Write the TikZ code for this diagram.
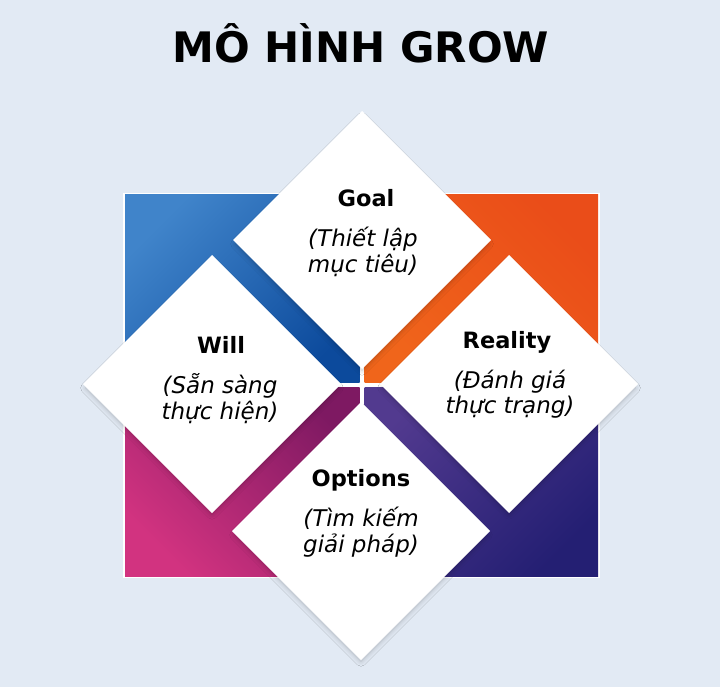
\documentclass[tikz,border=0pt]{standalone}
\usepackage{fontspec}
\setmainfont{DejaVu Sans}
\usetikzlibrary{shapes.geometric,shadows.blur}
\definecolor{bg}{HTML}{E2EAF4}
\definecolor{tlA}{HTML}{4084CA}
\definecolor{tlB}{HTML}{0C4A9C}
\definecolor{trA}{HTML}{F0651B}
\definecolor{trB}{HTML}{EA4D19}
\definecolor{blA}{HTML}{7E1962}
\definecolor{blB}{HTML}{D23380}
\definecolor{brA}{HTML}{523A8F}
\definecolor{brB}{HTML}{241F73}
\begin{document}
\begin{tikzpicture}[x=1pt,y=-1pt,
  dia/.style={diamond, aspect=1, minimum width=258pt, minimum height=258pt,
    inner sep=0pt, outer sep=0pt, fill=white,
    blur shadow={shadow blur radius=5pt, shadow xshift=0pt, shadow yshift=-4pt,
      shadow scale=0.98, shadow opacity=22, shadow blur steps=10}},
  ttl/.style={font=\fontsize{22.5}{26}\selectfont\bfseries, anchor=base, inner sep=0pt},
  sub/.style={font=\fontsize{23}{26}\selectfont\itshape, anchor=base, inner sep=0pt}]
\useasboundingbox[fill=bg] (0,0) rectangle (720,687);
\node[font=\fontsize{42}{44}\selectfont\bfseries, anchor=base, inner sep=0pt] (title) at (361,63) {MÔ HÌNH GROW};
% square
\fill[white] (123,193) rectangle (600,578);
\shade[top color=tlA, bottom color=tlB, shading angle=45] (125,195) rectangle (359.5,382.5);
\shade[top color=trB, bottom color=trA, shading angle=-45] (364.5,195) rectangle (598,382.5);
\shade[top color=blA, bottom color=blB, shading angle=-45] (125,387.5) rectangle (359.5,576);
\shade[top color=brA, bottom color=brB, shading angle=45] (364.5,387.5) rectangle (598,576);
% diamonds
\node[dia] (goal) at (362,240) {};
\node[dia] (will) at (212,384) {};
\node[dia] (reality) at (509,384) {};
\node[dia] (options) at (361,531) {};
% texts
\node[ttl] (goalT) at (366,207) {Goal};
\node[sub] (goalA) at (363,247) {(Thiết lập};
\node[sub] (goalB) at (363,272) {mục tiêu)};
\node[ttl] (willT) at (221,353) {Will};
\node[sub] (willA) at (220,393) {(Sẵn sàng};
\node[sub] (willB) at (220,419) {thực hiện)};
\node[ttl] (realT) at (507,348) {Reality};
\node[sub] (realA) at (510,388) {(Đánh giá};
\node[sub] (realB) at (510,413) {thực trạng)};
\node[ttl] (optT) at (361,486) {Options};
\node[sub] (optA) at (361,526) {(Tìm kiếm};
\node[sub] (optB) at (361,552) {giải pháp)};
\end{tikzpicture}
\end{document}
